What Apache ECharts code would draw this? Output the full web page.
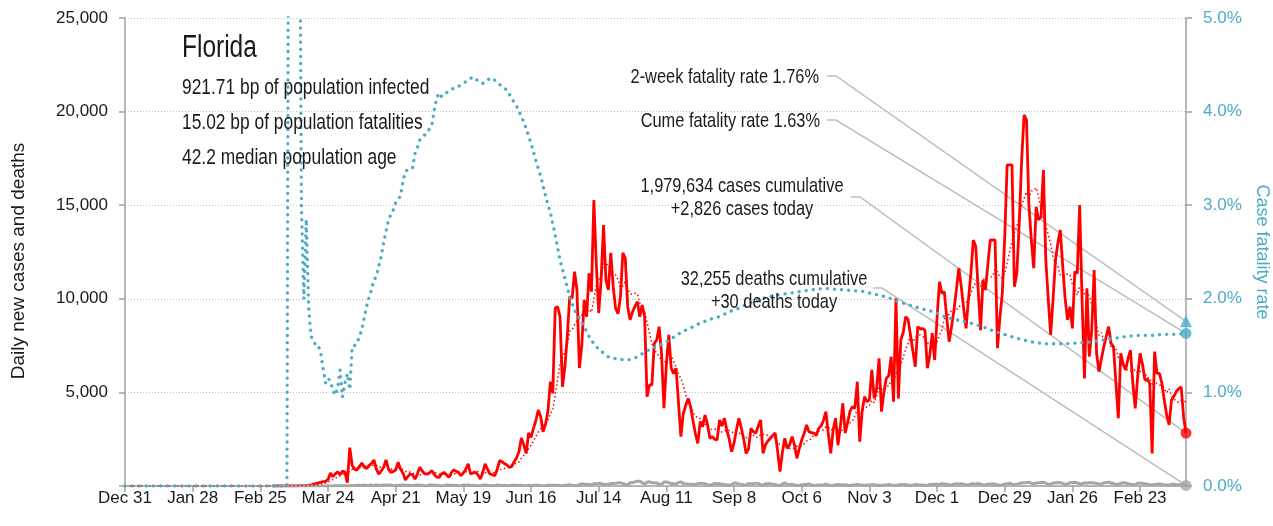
<!DOCTYPE html>
<html><head><meta charset="utf-8">
<script src="https://cdn.jsdelivr.net/npm/echarts@6/dist/echarts.min.js"></script>
<style>html,body{margin:0;padding:0;background:#fff}#c{width:1273px;height:526px}</style>
</head><body><div id="c"></div>
<script>
const FONT = '"Liberation Sans",Arial,sans-serif';
const N_DAYS = 440;            // Dec 31 2019 .. Mar 14 2021
const FIRST_DATA_DAY = 61;     // Mar 1 2020
const MONTHS = ['Jan','Feb','Mar','Apr','May','Jun','Jul','Aug','Sep','Oct','Nov','Dec'];

// daily new cases, Mar 1 2020 .. Mar 14 2021
const dailyCases = [
2,0,1,2,3,4,5,4,8,5,
11,15,18,22,30,40,55,100,130,170,
200,230,250,350,700,500,650,750,600,800,
750,180,2050,1100,900,850,1050,1230,1000,940,
1100,1200,1390,900,640,800,1000,1390,900,730,
780,850,1270,900,700,320,500,640,600,370,
650,1000,800,650,640,700,820,600,480,460,
650,730,600,460,700,860,780,730,550,700,
900,1180,640,700,730,600,370,700,1180,900,
640,600,550,900,1360,1300,1200,1120,1000,1030,
1300,1500,1830,2560,2200,1740,2830,2600,3080,3500,
4060,3700,2900,3300,4000,5570,4950,9510,9580,9040,
5300,6370,8000,10110,10030,11450,10470,6300,7500,9940,
9040,11360,10380,15280,11900,9240,11000,13940,11000,10470,
12450,10650,9490,9200,10110,12450,12160,9580,8870,9300,
9600,9850,9040,9670,9040,4770,5400,5400,7620,7800,
8510,7090,4160,6500,8070,6290,6000,6290,4500,2640,
3880,4300,4680,4240,3500,2800,2280,3440,3170,3790,
3300,2550,2640,2500,2460,3530,3200,3620,3000,2500,
1830,2300,3000,3620,3100,2500,1740,2000,3080,2900,
2830,3200,3530,1740,2200,2400,2550,2700,2830,1900,
770,1800,2550,2010,2200,2640,2200,1480,2000,2460,
2800,3260,2900,2850,2830,2700,3080,3200,3500,3970,
2800,1740,3000,3620,2190,3200,4420,2830,3400,4000,
4240,4150,5570,2370,4000,4770,4500,4600,6200,4680,
5200,6820,3970,5000,5750,5900,6910,4500,10030,4680,
7800,8200,9040,8900,8070,7200,6370,8510,8400,8400,
8330,6290,7000,8160,6730,9000,10910,10290,10380,9000,
7710,8500,9400,10500,11630,10650,9500,8420,10000,11360,
13140,12800,10500,8330,11000,10470,11800,13140,13140,13140,
7360,9000,10290,13320,17150,17150,17150,10650,11360,14000,
17420,19820,19550,15000,13140,11630,14920,14210,14390,16880,
12070,10000,8070,10000,12070,13000,13680,11720,10000,8870,
9580,8420,11450,11360,15010,9940,5750,10560,6910,8330,
11540,7090,6110,6800,7440,8000,8510,7620,7440,5500,
3620,7090,6500,6200,6800,7260,5500,4150,5840,7090,
6500,5660,5700,5480,1740,7180,6020,6020,5500,4590,
3800,3260,4590,4800,5040,5200,5300,3700,2826
];

// daily new deaths by month
const deathsMar20 = [0,0,0,0,0,2,0,0,0,0,0,0,0,1,1,0,1,2,3,1,2,4,5,8,6,8,7,9,12,10,15];
const deathsApr20 = [12,16,25,22,30,45,20,50,30,45,50,20,55,45,30,60,45,55,50,20,30,40,45,60,50,45,30,25,40,55];
const deathsMay20 = [45,35,20,15,50,60,45,40,25,15,20,55,40,45,30,40,20,20,55,45,50,30,40,25,20,30,45,50,35,25,15];
const deathsJun20 = [20,60,40,30,35,25,15,35,45,40,30,45,20,15,40,30,45,40,45,30,20,25,45,40,35,40,45,20,30,45];
const deathsJul20 = [55,70,45,25,20,65,120,90,100,80,40,130,110,150,120,90,80,90,140,130,140,170,170,125,80,70,185,180,220,250,250];
const deathsAug20 = [180,90,200,230,180,170,160,105,80,210,215,180,130,120,110,190,220,140,120,100,100,90,85,120,150,140,120,70,60,80,140];
const deathsSep20 = [120,130,90,80,60,50,60,170,150,110,100,70,60,130,120,110,150,140,70,60,120,120,130,90,80,40,30,100,170,100];
const deathsOct20 = [80,100,50,30,40,70,80,90,110,60,30,40,60,60,70,90,60,25,20,70,80,70,60,70,40,30,50,60,80,70,50];
const deathsNov20 = [40,40,60,70,70,50,40,30,50,60,80,50,40,30,60,80,70,80,60,30,40,80,70,60,50,40,30,90,80,90];
const deathsDec20 = [100,80,120,110,90,60,70,100,120,110,120,90,60,50,110,120,100,130,100,70,60,110,100,120,100,50,40,60,110,120,150];
const deathsJan21 = [100,80,90,130,160,170,180,200,150,120,160,170,190,200,150,100,90,160,170,190,180,140,100,110,180,190,200,160,130,110,170];
const deathsFeb21 = [150,180,170,160,140,110,90,170,180,200,160,130,90,80,150,170,160,120,100,80,70,150,160,140,120,90,70,60];
const deathsMar21 = [80,100,110,90,70,60,50,90,100,80,70,60,40,30];

// cumulative case fatality rate (%), [day index, value]
const cumeRate = [
[0,0],[67,0],[68,10],[72,8],[73,3.0],[74,2.0],[75,2.85],[76,1.9],[77,1.6],[78,1.55],[79,1.5],[80,1.5],
[81,1.42],[82,1.25],[83,1.1],[84,1.15],[85,1.12],[86,1.02],[87,0.97],[88,1.05],[89,1.24],[90,0.95],
[91,1.1],[92,1.2],[93,1.03],[94,1.49],[95,1.5],[96,1.52],[97,1.6],[98,1.67],[99,1.8],[100,1.92],
[101,2.02],[102,2.1],[103,2.2],[104,2.24],[105,2.35],[106,2.45],[107,2.6],[108,2.72],[109,2.84],[110,2.9],
[111,2.95],[112,3.03],[113,3.06],[114,3.1],[115,3.25],[116,3.36],[117,3.38],[118,3.38],[119,3.4],[120,3.55],
[121,3.62],[122,3.7],[123,3.73],[124,3.75],[125,3.77],[126,3.82],[127,3.86],[128,4.02],[129,4.15],[130,4.2],
[131,4.16],[132,4.18],[134,4.22],[136,4.25],[138,4.27],[140,4.3],[142,4.34],[144,4.37],[146,4.33],[148,4.3],
[150,4.34],[152,4.36],[154,4.31],[156,4.27],[158,4.23],[160,4.14],[162,4.06],[164,3.95],[166,3.82],[168,3.66],
[170,3.48],[172,3.31],[174,3.1],[176,2.92],[178,2.68],[180,2.41],[182,2.22],[184,2.02],[186,1.88],[188,1.79],
[190,1.7],[192,1.6],[194,1.52],[196,1.46],[198,1.42],[200,1.38],[203,1.36],[206,1.35],[209,1.35],[212,1.38],
[215,1.43],[218,1.47],[221,1.5],[224,1.54],[227,1.59],[230,1.64],[234,1.69],[238,1.74],[242,1.78],[246,1.81],
[250,1.86],[254,1.9],[258,1.95],[262,1.99],[266,2.02],[270,2.04],[275,2.06],[280,2.08],[285,2.1],[290,2.11],
[295,2.1],[300,2.09],[305,2.08],[310,2.05],[315,2.02],[320,1.97],[325,1.93],[330,1.89],[335,1.86],[340,1.8],
[345,1.77],[350,1.74],[355,1.7],[360,1.65],[365,1.61],[370,1.57],[375,1.54],[380,1.52],[385,1.52],[390,1.52],
[395,1.53],[400,1.54],[405,1.56],[410,1.58],[415,1.6],[420,1.61],[425,1.61],[430,1.62],[435,1.62],[439,1.63]
];
const twoWeekRate = 1.76;
const cumeRateToday = 1.63;

const stateName = 'Florida';
const infoLines = ['921.71 bp of population infected','15.02 bp of population fatalities','42.2 median population age'];
const casesCumLabel = '1,979,634 cases cumulative';
const casesTodayLabel = '+2,826 cases today';
const deathsCumLabel = '32,255 deaths cumulative';
const deathsTodayLabel = '+30 deaths today';

// ---- build ----
const dailyDeaths = [].concat(deathsMar20,deathsApr20,deathsMay20,deathsJun20,deathsJul20,deathsAug20,
  deathsSep20,deathsOct20,deathsNov20,deathsDec20,deathsJan21,deathsFeb21,deathsMar21);
if (dailyCases.length !== N_DAYS - FIRST_DATA_DAY) throw new Error('cases length ' + dailyCases.length);
if (dailyDeaths.length !== N_DAYS - FIRST_DATA_DAY) throw new Error('deaths length ' + dailyDeaths.length);

const categories = [];
for (let i = 0; i < N_DAYS; i++) {
  const d = new Date(Date.UTC(2019, 11, 31 + i));
  categories.push(MONTHS[d.getUTCMonth()] + ' ' + d.getUTCDate());
}
const pad = new Array(FIRST_DATA_DAY).fill(null);
const casesFull = pad.concat(dailyCases);
const deathsFull = pad.concat(dailyDeaths);
const casesForAvg = new Array(FIRST_DATA_DAY).fill(0).concat(dailyCases);
const avg7 = casesForAvg.map((v, i) => {
  const s = casesForAvg.slice(Math.max(0, i - 6), i + 1);
  return s.reduce((a, b) => a + b, 0) / s.length;
});
const LAST = N_DAYS - 1;
const lastCases = dailyCases[dailyCases.length - 1];
const lastDeaths = dailyDeaths[dailyDeaths.length - 1];

const RED = '#ff0000', BLUE = '#4bacc6', GRAY = '#a6a6a6', AXIS = '#a0a0a0', TXT = '#1a1a1a';

const chart = echarts.init(document.getElementById('c'), null, {renderer: 'canvas'});
chart.setOption({
  animation: false,
  textStyle: {fontFamily: FONT},
  grid: {left: 125, right: 87, top: 18, bottom: 40, containLabel: false, outerBoundsMode: 'none'},
  xAxis: {
    type: 'category', data: categories, boundaryGap: false,
    axisLine: {lineStyle: {color: AXIS, width: 1.5}},
    axisTick: {interval: 27, length: 6, lineStyle: {color: AXIS, width: 1.5}},
    axisLabel: {interval: 27, color: TXT, fontSize: 17, fontFamily: FONT, margin: 4},
    splitLine: {show: false}
  },
  yAxis: [{
    type: 'value', min: 0, max: 25000, interval: 5000,
    name: 'Daily new cases and deaths', nameLocation: 'middle', nameGap: 97, nameRotate: 90,
    nameTextStyle: {color: TXT, fontSize: 19, fontFamily: FONT, padding: [0, 18, 0, 0]},
    axisLine: {show: true, lineStyle: {color: AXIS, width: 1.5}},
    axisTick: {show: true, length: 6, lineStyle: {color: AXIS, width: 1.5}},
    axisLabel: {color: TXT, fontSize: 17, fontFamily: FONT, margin: 17,
      formatter: v => v === 0 ? '' : v.toLocaleString('en-US')},
    splitLine: {show: true, lineStyle: {color: '#bfbfbf', width: 1, type: [1, 2]}}
  }, {
    type: 'value', min: 0, max: 5, interval: 1, position: 'right',
    name: 'Case fatality rate', nameLocation: 'middle', nameGap: 63, nameRotate: -90,
    nameTextStyle: {color: BLUE, fontSize: 18, fontFamily: FONT},
    axisLine: {show: true, lineStyle: {color: AXIS, width: 1.5}},
    axisTick: {show: true, length: 6, lineStyle: {color: AXIS, width: 1.5}},
    axisLabel: {color: BLUE, fontSize: 17, fontFamily: FONT, margin: 17,
      formatter: v => v.toFixed(1) + '%'},
    splitLine: {show: false}
  }],
  series: [
    {name: 'deaths', type: 'line', data: deathsFull, symbol: 'none', z: 3,
     lineStyle: {color: GRAY, width: 3}},
    {name: 'cases', type: 'line', data: casesFull, symbol: 'none', z: 2,
     lineStyle: {color: RED, width: 2.8}},
    {name: 'cases 7d avg', type: 'line', data: avg7, symbol: 'none', z: 4,
     lineStyle: {color: RED, width: 1.5, type: [1.5, 2.5]}},
    {name: 'cume rate', type: 'line', yAxisIndex: 1, data: cumeRate, symbol: 'none', z: 5,
     lineStyle: {color: BLUE, width: 3.3, type: [0.1, 7], cap: 'round'}},
    {type: 'scatter', data: [[LAST, lastCases]], symbol: 'circle', symbolSize: 11, z: 6,
     itemStyle: {color: RED}},
    {type: 'scatter', data: [[LAST, lastDeaths]], symbol: 'circle', symbolSize: 11, z: 6,
     itemStyle: {color: GRAY}},
    {type: 'scatter', yAxisIndex: 1, data: [[LAST, twoWeekRate]], symbol: 'triangle', symbolSize: 12, z: 6,
     itemStyle: {color: BLUE}},
    {type: 'scatter', yAxisIndex: 1, data: [[LAST, cumeRateToday]], symbol: 'circle', symbolSize: 11, z: 6,
     itemStyle: {color: BLUE}}
  ]
});

// condensed-looking text: regular face squeezed horizontally around its anchor
function txt(text, x, y, size, align, sx) {
  return {type: 'text', x: x, y: y, scaleX: sx || 0.78, z: 10, silent: true,
    style: {text: text, fontSize: size, fontFamily: FONT, fill: TXT,
      align: align || 'left', verticalAlign: 'middle', textAlign: align || 'left', textVerticalAlign: 'middle'}};
}
const px = (axis, v) => chart.convertToPixel({xAxisIndex: 0, yAxisIndex: axis}, [LAST, v]);
function leader(x0, y0, end) {
  return {type: 'polyline', z: 1, silent: true,
    shape: {points: [[x0, y0], [x0 + 9, y0], end]},
    style: {stroke: '#bdbdbd', lineWidth: 1.5, fill: null}};
}
chart.setOption({graphic: [
  txt(stateName, 182, 48, 31, 'left', 0.79),
  txt(infoLines[0], 182, 88, 22, 'left', 0.79),
  txt(infoLines[1], 182, 123, 22, 'left', 0.79),
  txt(infoLines[2], 182, 158, 22, 'left', 0.79),
  txt('2-week fatality rate ' + twoWeekRate.toFixed(2) + '%', 819, 77, 21, 'right'),
  txt('Cume fatality rate ' + cumeRateToday.toFixed(2) + '%', 820, 121, 21, 'right'),
  txt(casesCumLabel, 742, 186, 21, 'center'),
  txt(casesTodayLabel, 742, 209, 21, 'center'),
  txt(deathsCumLabel, 774, 279, 21, 'center'),
  txt(deathsTodayLabel, 774, 302, 21, 'center'),
  leader(827, 76, px(1, twoWeekRate)),
  leader(827, 120, px(1, cumeRateToday)),
  leader(851, 197, px(0, lastCases)),
  leader(873, 288, px(0, lastDeaths))
]});
</script></body></html>
